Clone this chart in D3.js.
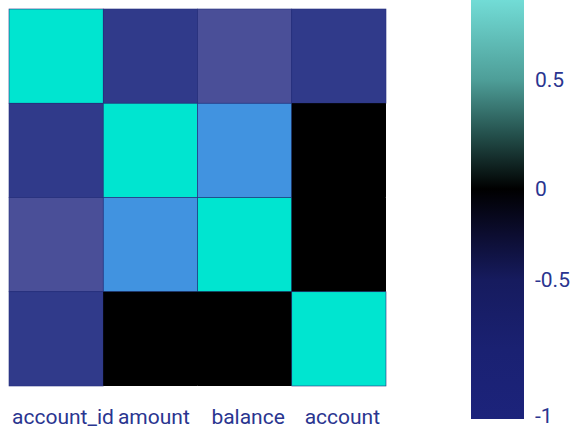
<!DOCTYPE html>
<html>
<head>
<meta charset="utf-8">
<script src="https://cdn.jsdelivr.net/npm/d3@7"></script>
<style>
  html, body { margin: 0; padding: 0; background: #fff; }
  svg { display: block; font-family: Roboto, "Noto Sans", sans-serif; }
</style>
</head>
<body>
<svg id="chart" width="577" height="431"></svg>
<script>
// Correlation matrix of the account table columns
const columns = ["account_id", "amount", "balance", "account"];
const corrAccountId = [1.0, 0.2, 0.3, 0.2];
const corrAmount    = [0.2, 1.0, 0.6, 0.0];
const corrBalance   = [0.3, 0.6, 1.0, 0.0];
const corrAccount   = [0.2, 0.0, 0.0, 1.0];
const matrix = [corrAccountId, corrAmount, corrBalance, corrAccount];

// Colour ramp used for the cells
const cellStops  = [0.0, 0.2, 0.3, 0.6, 1.0];
const cellColors = ["#000000", "#303a8a", "#4a4f98", "#4193e0", "#00e5d0"];

// Colour bar ramp and its tick labels
const barStops  = [-1, -0.75, -0.5, -0.25, 0, 0.25, 0.5, 0.87];
const barColors = ["#1c237b", "#1a2172", "#161b5e", "#0c0d30", "#000000", "#24504c", "#4e9e98", "#72dcd6"];
const barTicks  = [-1, -0.5, 0, 0.5];
const barTickLabels = ["-1", "-0.5", "0", "0.5"];

(function draw() {
  const svg = d3.select("#chart");
  const plotLeft = 9, plotTop = 9, plotSize = 377;

  const x = d3.scaleBand().domain(columns).range([plotLeft, plotLeft + plotSize]);
  const y = d3.scaleBand().domain(columns).range([plotTop, plotTop + plotSize]);
  const cellColor = d3.scaleLinear().domain(cellStops).range(cellColors);

  const cells = [];
  matrix.forEach((row, i) => row.forEach((v, j) => cells.push({ r: columns[i], c: columns[j], v })));

  // Dark underlay so the seams between neighbouring cells stay dark
  svg.append("rect")
    .attr("x", plotLeft + 0.5).attr("y", plotTop + 0.5)
    .attr("width", plotSize - 1).attr("height", plotSize - 1)
    .attr("fill", "#000");

  svg.append("g").selectAll("rect").data(cells).join("rect")
    .attr("x", d => x(d.c))
    .attr("y", d => y(d.r))
    .attr("width", x.bandwidth())
    .attr("height", y.bandwidth())
    .attr("fill", d => cellColor(d.v))
    .attr("stroke", d => d.v === 0 ? "none" : "#25307f")
    .attr("stroke-width", 0.6);

  // Column labels under the matrix, kept clear of the left edge
  svg.append("g").selectAll("text").data(columns).join("text")
    .attr("y", 424)
    .attr("text-anchor", "middle")
    .attr("fill", "#2a3590")
    .style("font-size", "21px")
    .text(d => d)
    .attr("x", function (d) {
      const w = this.getComputedTextLength();
      return Math.max(x(d) + x.bandwidth() / 2 + 3.5, 12 + w / 2);
    });

  // Colour bar
  const barX = 471, barW = 53, barTop = 0, barBottom = 419;
  const barScale = d3.scaleLinear().domain([-1, -0.5, 0, 0.5, 0.87]).range([barBottom, 280, 189, 80, barTop]);

  const defs = svg.append("defs");
  const grad = defs.append("linearGradient")
    .attr("id", "barGrad").attr("x1", 0).attr("y1", 1).attr("x2", 0).attr("y2", 0);
  grad.selectAll("stop").data(barStops).join("stop")
    .attr("offset", d => (barBottom - barScale(d)) / (barBottom - barTop))
    .attr("stop-color", (d, i) => barColors[i]);

  svg.append("rect")
    .attr("x", barX).attr("y", barTop)
    .attr("width", barW).attr("height", barBottom - barTop)
    .attr("fill", "url(#barGrad)");

  svg.append("g").selectAll("text").data(barTicks).join("text")
    .attr("x", 535)
    .attr("y", d => Math.min(barScale(d), 416))
    .attr("dy", "0.35em")
    .attr("fill", "#2a3590")
    .style("font-size", "21px")
    .text((d, i) => barTickLabels[i]);
})();
</script>
</body>
</html>
